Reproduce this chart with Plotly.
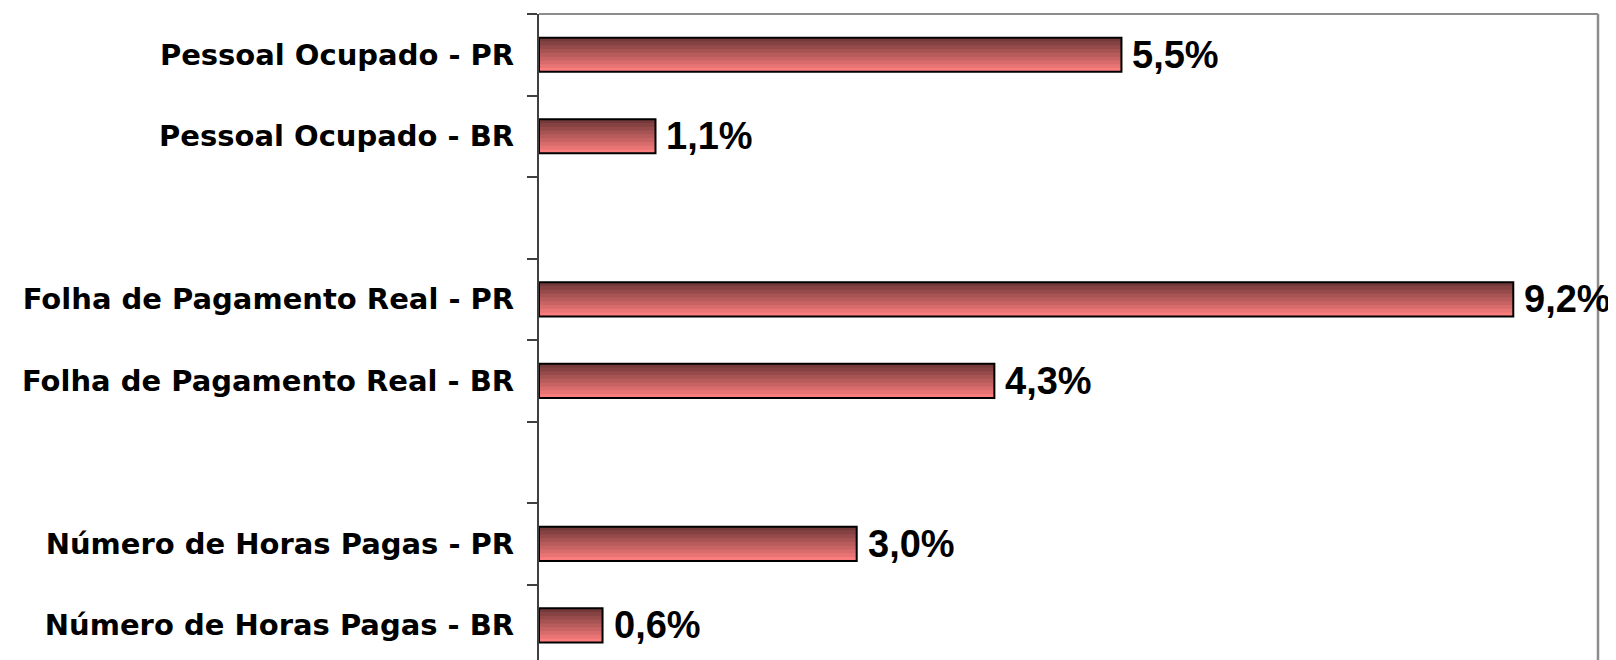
import plotly.graph_objects as go

categories = [
    "Pessoal Ocupado - PR",
    "Pessoal Ocupado - BR",
    "Folha de Pagamento Real - PR",
    "Folha de Pagamento Real - BR",
    "Número de Horas Pagas - PR",
    "Número de Horas Pagas - BR",
]
values = [5.5, 1.1, 9.2, 4.3, 3.0, 0.6]
axis_order = [categories[0], categories[1], " ", categories[2], categories[3], "  ",
              categories[4], categories[5]]

# the page body has an 8px default margin; size the figure so it ends at the window edge
W = 1608
H = 652
BAR_W = 0.42
N_BANDS = 9
dark = (116, 58, 58)
light = (250, 124, 124)

fig = go.Figure()
band_w = BAR_W / N_BANDS
for k in range(N_BANDS):
    t = k / (N_BANDS - 1)
    c = tuple(round(dark[i] + (light[i] - dark[i]) * t) for i in range(3))
    fig.add_trace(go.Bar(
        x=values, y=categories, orientation="h",
        width=BAR_W - k * band_w, offset=-BAR_W / 2 + k * band_w,
        marker=dict(color="rgb(%d,%d,%d)" % c, line=dict(width=0)),
        showlegend=False, hoverinfo="skip",
    ))
fig.add_trace(go.Bar(
    x=values, y=categories, orientation="h",
    width=BAR_W, offset=-BAR_W / 2,
    marker=dict(color="rgba(0,0,0,0)", line=dict(color="black", width=2)),
    showlegend=False,
))

for v, c in zip(values, categories):
    fig.add_annotation(
        x=v, y=c, xref="x", yref="y",
        text=("%.1f" % v).replace(".", ",") + "%",
        showarrow=False, xanchor="left", yanchor="middle", xshift=9,
        font=dict(family="Liberation Sans", size=38, color="black", weight="bold"),
    )

fig.update_layout(
    width=W, height=H,
    margin=dict(l=531, r=18, t=6, b=0, pad=0),
    plot_bgcolor="white", paper_bgcolor="white",
    barmode="overlay",
    xaxis=dict(range=[0, 10], showticklabels=False, showgrid=False, zeroline=False,
               showline=False, ticks=""),
    yaxis=dict(type="category", categoryorder="array", categoryarray=axis_order,
               range=[7.426, -0.5], showgrid=False, zeroline=False,
               showline=True, linecolor="#404040", linewidth=2,
               ticks="outside", tickson="boundaries", ticklen=10, tickcolor="#404040",
               tickwidth=1.5, ticklabelstandoff=17,
               tickfont=dict(family="DejaVu Sans", size=29, color="black", weight="bold")),
    shapes=[
        dict(type="line", xref="paper", yref="paper", x0=0, x1=1, y0=1, y1=1,
             line=dict(color="#8c8c8c", width=2)),
        dict(type="line", xref="paper", yref="paper", x0=1, x1=1, y0=0, y1=1,
             line=dict(color="#8c8c8c", width=2.5)),
    ],
)

fig.write_html("out.html")
